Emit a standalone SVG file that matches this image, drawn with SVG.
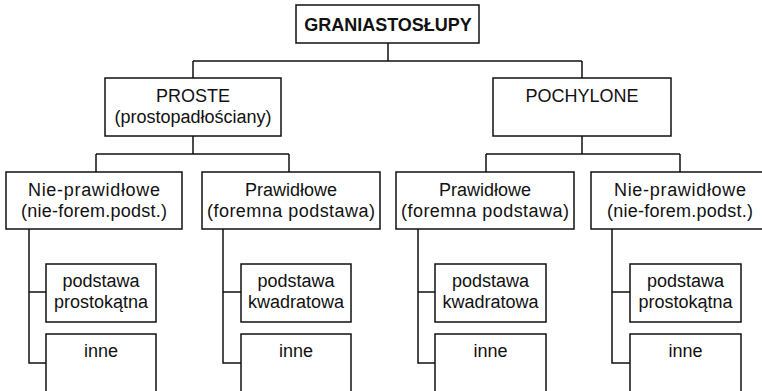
<svg xmlns="http://www.w3.org/2000/svg" width="762" height="391" viewBox="0 0 762 391">
<style>
.box{fill:#fff;stroke:#111;stroke-width:1.5}
.ln{fill:none;stroke:#111;stroke-width:1.5}
text{font-family:"Liberation Sans",Arial,sans-serif;font-size:18px;fill:#111;text-anchor:middle}
.b{font-weight:bold}
</style>
<rect width="762" height="391" fill="#fff"/>
<g id="connectors" class="ln">
<path d="M388,43V61M193,61H582M193,61V78M582,61V78"/>
<path d="M193,136V154M96,154H289M96,154V172M289,154V172"/>
<path d="M582,136V154M486,154H680M486,154V172M680,154V172"/>
<path d="M29,229V363H46M29,292H46"/>
<path d="M223,229V363H241M223,292H241"/>
<path d="M418,229V363H435M418,292H435"/>
<path d="M612,229V363H630M612,292H630"/>
</g>
<g id="root"><rect class="box" x="296" y="5" width="183" height="38"/><text class="b" x="388" y="31">GRANIASTOSŁUPY</text></g>
<g id="proste"><rect class="box" x="105" y="78" width="176" height="58"/><text x="193" y="102">PROSTE</text><text x="193" y="123">(prostopadłościany)</text></g>
<g id="pochylone"><rect class="box" x="493" y="78" width="178" height="58"/><text x="582" y="102">POCHYLONE</text></g>
<g id="p-nieprawidlowe"><rect class="box" x="6" y="172" width="176" height="57"/><text x="94" y="196" textLength="132" lengthAdjust="spacing">Nie-prawidłowe</text><text x="94" y="217" textLength="146" lengthAdjust="spacing">(nie-forem.podst.)</text></g>
<g id="p-prawidlowe"><rect class="box" x="202" y="172" width="178" height="57"/><text x="291" y="196">Prawidłowe</text><text x="291" y="217" textLength="168" lengthAdjust="spacing">(foremna podstawa)</text></g>
<g id="o-prawidlowe"><rect class="box" x="396" y="172" width="178" height="57"/><text x="485" y="196">Prawidłowe</text><text x="485" y="217" textLength="168" lengthAdjust="spacing">(foremna podstawa)</text></g>
<g id="o-nieprawidlowe"><rect class="box" x="591" y="172" width="178" height="57"/><text x="680" y="196" textLength="132" lengthAdjust="spacing">Nie-prawidłowe</text><text x="680" y="217" textLength="146" lengthAdjust="spacing">(nie-forem.podst.)</text></g>
<g id="c1a"><rect class="box" x="46" y="264" width="110" height="58"/><text x="101" y="287">podstawa</text><text x="101" y="308">prostokątna</text></g>
<g id="c1b"><rect class="box" x="46" y="334" width="110" height="70"/><text x="101" y="357">inne</text></g>
<g id="c2a"><rect class="box" x="241" y="264" width="110" height="58"/><text x="296" y="287">podstawa</text><text x="296" y="308">kwadratowa</text></g>
<g id="c2b"><rect class="box" x="241" y="334" width="110" height="70"/><text x="296" y="357">inne</text></g>
<g id="c3a"><rect class="box" x="435" y="264" width="111" height="58"/><text x="490.5" y="287">podstawa</text><text x="490.5" y="308">kwadratowa</text></g>
<g id="c3b"><rect class="box" x="435" y="334" width="111" height="70"/><text x="490.5" y="357">inne</text></g>
<g id="c4a"><rect class="box" x="630" y="264" width="111" height="58"/><text x="685.5" y="287">podstawa</text><text x="685.5" y="308">prostokątna</text></g>
<g id="c4b"><rect class="box" x="630" y="334" width="111" height="70"/><text x="685.5" y="357">inne</text></g>
</svg>
